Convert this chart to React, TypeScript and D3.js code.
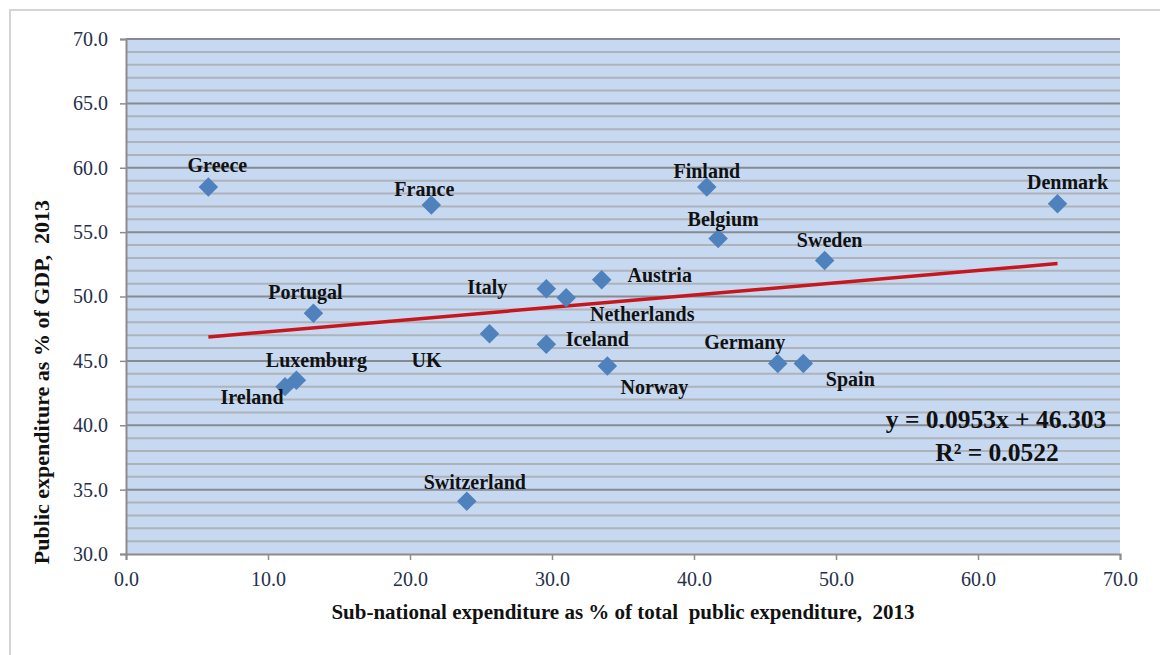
import { useEffect, useRef } from 'react';
import * as d3 from 'd3';

// data
const countries = ['Greece', 'France', 'Finland', 'Denmark', 'Belgium', 'Sweden', 'Austria', 'Italy', 'Netherlands',
  'Portugal', 'UK', 'Iceland', 'Norway', 'Germany', 'Spain', 'Luxemburg', 'Ireland', 'Switzerland'];
const subNationalShare = [5.8, 21.5, 40.9, 65.6, 41.7, 49.2, 33.5, 29.6, 31.0, 13.2, 25.6, 29.6, 33.9, 45.9, 47.7, 12.0, 11.2, 24.0];
const publicExpGdp = [58.5, 57.1, 58.5, 57.2, 54.5, 52.8, 51.3, 50.6, 49.9, 48.7, 47.1, 46.3, 44.6, 44.8, 44.8, 43.5, 43.0, 34.1];
const xTicks = [0, 10, 20, 30, 40, 50, 60, 70];
const yTicks = [30, 35, 40, 45, 50, 55, 60, 65, 70];
const trendSlope = 0.0953;
const trendIntercept = 46.303;
const rSquared = 0.0522;

// label placement relative to marker (px)
const labelOffset: Record<string, [number, number]> = {
  Greece: [9, -22], France: [-7, -16], Finland: [0, -16], Denmark: [10, -22], Belgium: [5, -20],
  Sweden: [5, -20], Austria: [58, -5], Italy: [-59, -2], Netherlands: [76, 16], Portugal: [-8, -21],
  UK: [-63, 26], Iceland: [51, -5], Norway: [47, 21], Germany: [-33, -21], Spain: [47, 16],
  Luxemburg: [20, -20], Ireland: [-33, 10], Switzerland: [8, -19],
};

const W = 1160;
const H = 655;
const serif = '"Liberation Serif", "DejaVu Serif", serif';

export default function App() {
  const ref = useRef<SVGSVGElement>(null);

  useEffect(() => {
    const svg = d3.select(ref.current);
    svg.selectAll('*').remove();

    const left = 126, right = 1120, top = 39, bottom = 554;
    const x = d3.scaleLinear().domain([0, 70]).range([left, right]);
    const y = d3.scaleLinear().domain([30, 70]).range([bottom, top]);

    svg.append('rect').attr('width', W).attr('height', H).attr('fill', '#fff');
    // outer frame (top and left edges visible)
    svg.append('path').attr('d', `M10,${H} L10,10 L${W},10`).attr('fill', 'none')
      .attr('stroke', '#d4d4d4').attr('stroke-width', 2);

    svg.append('rect').attr('x', left).attr('y', top).attr('width', right - left).attr('height', bottom - top)
      .attr('fill', '#c6d9f1');

    const minor = d3.range(31, 70).filter((v) => v % 5 !== 0);
    svg.append('g').selectAll('line').data(minor).enter().append('line')
      .attr('x1', left).attr('x2', right).attr('y1', (d) => y(d)).attr('y2', (d) => y(d))
      .attr('stroke', '#adb2bb').attr('stroke-width', 2);
    svg.append('g').selectAll('line').data(yTicks.filter((v) => v > 30)).enter().append('line')
      .attr('x1', left).attr('x2', right).attr('y1', (d) => y(d)).attr('y2', (d) => y(d))
      .attr('stroke', '#868a93').attr('stroke-width', 2);

    const yAxis = svg.append('g').attr('transform', `translate(${left},0)`)
      .call(d3.axisLeft(y).tickValues(yTicks).tickFormat(d3.format('.1f')).tickSizeOuter(0).tickSize(6).tickPadding(12));
    const xAxis = svg.append('g').attr('transform', `translate(0,${bottom})`)
      .call(d3.axisBottom(x).tickValues(xTicks).tickFormat(d3.format('.1f')).tickSizeOuter(0).tickSize(6).tickPadding(12));
    [yAxis, xAxis].forEach((a) => {
      a.attr('font-family', serif).attr('font-size', 20);
      a.select('.domain').attr('stroke', '#8c8c8c').attr('stroke-width', 2);
      a.selectAll('.tick line').attr('stroke', '#8c8c8c').attr('stroke-width', 1.5);
      a.selectAll('.tick text').style('font-family', serif).style('font-size', '20px').attr('fill', '#27304a');
    });

    // trend line
    const xs = d3.extent(subNationalShare) as [number, number];
    svg.append('line')
      .attr('x1', x(xs[0])).attr('y1', y(trendSlope * xs[0] + trendIntercept))
      .attr('x2', x(xs[1])).attr('y2', y(trendSlope * xs[1] + trendIntercept))
      .attr('stroke', '#c8161d').attr('stroke-width', 3.5);

    const pts = countries.map((c, i) => ({ c, vx: subNationalShare[i], vy: publicExpGdp[i] }));
    const diamond = d3.symbol(d3.symbolSquare, 190);
    svg.append('g').selectAll('path').data(pts).enter().append('path')
      .attr('d', diamond)
      .attr('transform', (d) => `translate(${x(d.vx)},${y(d.vy)}) rotate(45)`)
      .attr('fill', '#4f81bd');

    svg.append('g').selectAll('text').data(pts).enter().append('text')
      .attr('x', (d) => x(d.vx) + labelOffset[d.c][0])
      .attr('y', (d) => y(d.vy) + labelOffset[d.c][1])
      .attr('dy', '0.35em')
      .attr('text-anchor', 'middle')
      .attr('font-family', serif).attr('font-weight', 'bold').attr('font-size', 20).attr('fill', '#111')
      .text((d) => d.c);

    const eq = svg.append('g').attr('font-family', serif).attr('font-weight', 'bold').attr('font-size', 25.5)
      .attr('fill', '#111').attr('text-anchor', 'middle');
    eq.append('text').attr('x', 996).attr('y', 428).text(`y = ${trendSlope}x + ${trendIntercept}`);
    eq.append('text').attr('x', 997).attr('y', 461).text(`R² = ${rSquared}`);

    svg.append('text').attr('x', (left + right) / 2).attr('y', 619).attr('text-anchor', 'middle')
      .attr('font-family', serif).attr('font-weight', 'bold').attr('font-size', 21).attr('fill', '#111')
      .attr('xml:space', 'preserve')
      .text('Sub-national expenditure as % of total  public expenditure,  2013');
    svg.append('text').attr('transform', 'translate(49,382) rotate(-90)').attr('text-anchor', 'middle')
      .attr('font-family', serif).attr('font-weight', 'bold').attr('font-size', 22).attr('fill', '#111')
      .attr('xml:space', 'preserve')
      .text('Public expenditure as % of GDP,  2013');
  }, []);

  return (
    <svg ref={ref} width={W} height={H} style={{ position: 'absolute', left: 0, top: 0, display: 'block' }} />
  );
}
